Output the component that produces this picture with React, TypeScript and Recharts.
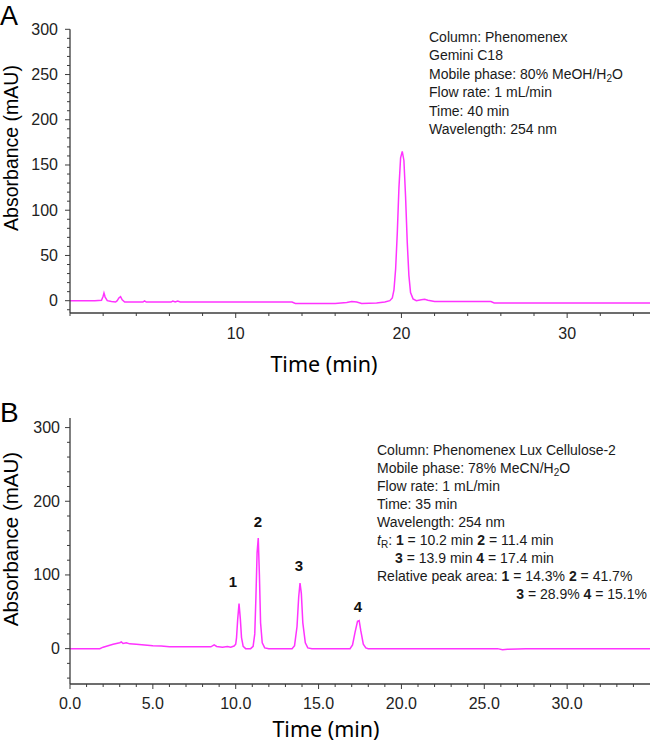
import React from "react";
import { LineChart, Line, XAxis, YAxis } from "recharts";

// ---------- Panel A data (time in min, absorbance in mAU) ----------
const timeA = [
  0, 1.5, 1.9, 2.0, 2.05, 2.12, 2.25, 2.5, 2.75, 2.85, 2.95, 3.05, 3.15, 3.3, 3.6,
  4.4, 4.5, 4.6, 6.1, 6.2, 6.35, 6.5, 6.65, 10, 13.4, 13.6, 16.0, 16.7, 17.0, 17.3,
  17.6, 18.5, 19.0, 19.3, 19.45, 19.55, 19.65, 19.75, 19.85, 19.95, 20.05, 20.15,
  20.25, 20.35, 20.45, 20.55, 20.7, 20.9, 21.2, 21.4, 21.6, 22.0, 25.4, 25.6, 35,
];
const absA = [
  0, 0, 0.5, 5, 8.5, 4, 0, -1, -1.5, 0, 3, 4.5, 1, -1.5, -1.5,
  -1.5, -0.3, -1.5, -1.5, -0.5, -1.5, -0.5, -1.5, -1.5, -1.5, -3, -3, -2, -1, -1.5,
  -3, -2.5, -1.5, 0, 3, 12, 35, 75, 125, 158, 165, 155,
  115, 65, 28, 9, 2, 0, 1, 1.5, 0.5, -1, -1, -2.5, -2.5,
];

// ---------- Panel B data ----------
const timeB = [
  0, 1.8, 2.0, 2.3, 2.6, 3.0, 3.1, 3.2, 3.4, 3.6, 4.0, 4.5, 5.0, 5.5, 6.0, 8.5, 8.7,
  8.85, 9.2, 9.5, 9.7, 9.9, 10.0, 10.05, 10.12, 10.2, 10.28, 10.35, 10.45, 10.6, 10.9,
  11.05, 11.15, 11.22, 11.29, 11.36, 11.43, 11.5, 11.6, 11.75, 12.0, 13.4, 13.55, 13.7,
  13.8, 13.88, 13.96, 14.05, 14.2, 14.35, 14.6, 16.9, 17.05, 17.2, 17.35, 17.45, 17.55,
  17.7, 17.85, 18.0, 25.8, 26.1, 26.4, 27.0, 27.5, 35,
];
const absB = [
  0, 0, 2, 4, 6, 8, 9, 7, 8, 6.5, 6, 5, 4, 3.5, 2.5, 2.5, 5,
  3, 2, 3, 2, 3.5, 6, 15, 40, 61, 40, 15, 3, 0, 0,
  3, 20, 70, 130, 150, 100, 35, 8, 1, 0, 0, 4, 30,
  70, 89, 75, 35, 8, 1, 0, 0, 5, 22, 37, 38, 24,
  6, 1, 0, 0, -1.5, -1, -0.5, 0, 0,
];

const peakLabels = ["1", "2", "3", "4"];

const dataA = timeA.map((t, i) => ({ t, v: absA[i] }));
const dataB = timeB.map((t, i) => ({ t, v: absB[i] }));

// ---------- Axis ticks ----------
const yMajorA = [0, 50, 100, 150, 200, 250, 300];
const yMajorB = [0, 100, 200, 300];
const xMajorA = [10, 20, 30];
const xMajorB = [0, 5, 10, 15, 20, 25, 30];

const range = (a: number, b: number, s: number) => {
  const out: number[] = [];
  for (let v = a; v <= b + 1e-9; v += s) out.push(Math.round(v * 100) / 100);
  return out;
};
const yTicksA = range(-10, 300, 10);
const yTicksB = range(-40, 300, 20);
const xTicksA = range(0, 34, 2);
const xTicksB = range(0, 34, 1);

const AXIS = "#3c3c3c";
const TICK_FONT = "'Liberation Sans', Arial, sans-serif";
const LINE = "#ff33ff";

const makeYTick = (majors: number[], gap: number) => (props: any) => {
  const { x, y, payload } = props;
  const major = majors.includes(payload.value);
  return (
    <g>
      <line x1={x} x2={x - (major ? 5 : 3)} y1={y} y2={y} stroke={AXIS} strokeWidth={1} />
      {major && (
        <text x={x - gap} y={y + 5.5} textAnchor="end" fontSize={16} fontFamily={TICK_FONT} fill="#222">
          {payload.value}
        </text>
      )}
    </g>
  );
};

const makeXTick = (majors: number[], fmt: (v: number) => string, off: number) => (props: any) => {
  const { x, y, payload } = props;
  const major = majors.includes(payload.value);
  return (
    <g>
      <line x1={x} x2={x} y1={y} y2={y + (major ? 5 : 3)} stroke={AXIS} strokeWidth={1} />
      {major && (
        <text x={x} y={y + off} textAnchor="middle" fontSize={16} fontFamily={TICK_FONT} fill="#222">
          {fmt(payload.value)}
        </text>
      )}
    </g>
  );
};

const FONT = "'Liberation Sans', Arial, sans-serif";

export default function App() {
  return (
    <div style={{ position: "absolute", left: 0, top: 0, width: 650, height: 743, background: "#fff" }}>
      <div style={{ position: "absolute", left: 0, top: 0 }}>
        <LineChart width={650} height={372} data={dataA} margin={{ top: 29.3, right: 0, bottom: 0, left: 0 }}>
          <XAxis
            dataKey="t"
            type="number"
            domain={[0, 35]}
            ticks={xTicksA}
            interval={0}
            tickSize={0}
            tickMargin={0}
            tickLine={false}
            height={59}
            allowDataOverflow
            axisLine={{ stroke: AXIS, strokeWidth: 1.3 }}
            tick={makeXTick(xMajorA, (v) => String(v), 26)}
          />
          <YAxis
            type="number"
            domain={[-13.6, 300]}
            ticks={yTicksA}
            interval={0}
            tickSize={0}
            tickMargin={0}
            tickLine={false}
            width={70}
            allowDataOverflow
            axisLine={{ stroke: AXIS, strokeWidth: 1.3 }}
            tick={makeYTick(yMajorA, 12)}
          />
          <Line type="linear" dataKey="v" stroke={LINE} strokeWidth={1.5} dot={false} isAnimationActive={false} />
        </LineChart>
      </div>
      <div style={{ position: "absolute", left: 0, top: 372 }}>
        <LineChart width={650} height={371} data={dataB} margin={{ top: 46, right: 0, bottom: 0, left: 0 }}>
          <XAxis
            dataKey="t"
            type="number"
            domain={[0, 35]}
            ticks={xTicksB}
            interval={0}
            tickSize={0}
            tickMargin={0}
            tickLine={false}
            height={59}
            allowDataOverflow
            axisLine={{ stroke: AXIS, strokeWidth: 1.3 }}
            tick={makeXTick(xMajorB, (v) => v.toFixed(1), 24.5)}
          />
          <YAxis
            type="number"
            domain={[-48, 313]}
            ticks={yTicksB}
            interval={0}
            tickSize={0}
            tickMargin={0}
            tickLine={false}
            width={70}
            allowDataOverflow
            axisLine={{ stroke: AXIS, strokeWidth: 1.3 }}
            tick={makeYTick(yMajorB, 10)}
          />
          <Line type="linear" dataKey="v" stroke={LINE} strokeWidth={1.5} dot={false} isAnimationActive={false} />
        </LineChart>
      </div>
      <svg
        width={650}
        height={743}
        style={{ position: "absolute", left: 0, top: 0, pointerEvents: "none" }}
        fontFamily={FONT}
      >
        {/* panel letters */}
        <text x={0} y={25} fontSize={27} fill="#000">A</text>
        <text x={0} y={422} fontSize={28} fill="#000">B</text>

        {/* y axis titles */}
        <text x={17.5} y={148} fontSize={19.5} textAnchor="middle" transform="rotate(-90 17.5 148)" fill="#000">
          Absorbance (mAU)
        </text>
        <text x={17.5} y={539} fontSize={20.5} textAnchor="middle" transform="rotate(-90 17.5 539)" fill="#000">
          Absorbance (mAU)
        </text>

        {/* x axis titles */}
        <text x={324} y={371.5} fontSize={21.5} textAnchor="middle" fontFamily="'Noto Sans', 'Open Sans', sans-serif" fill="#000">
          Time (min)
        </text>
        <text x={326} y={737} fontSize={21.5} textAnchor="middle" fontFamily="'Noto Sans', 'Open Sans', sans-serif" fill="#000">
          Time (min)
        </text>

        {/* panel A annotation */}
        <g fontSize={14} fill="#1a1a1a">
          <text x={429} y={42}>Column: Phenomenex</text>
          <text x={429} y={60.4}>Gemini C18</text>
          <text x={429} y={78.8}>
            Mobile phase: 80% MeOH/H<tspan fontSize={10} dy={3}>2</tspan><tspan dy={-3}>O</tspan>
          </text>
          <text x={429} y={97.2}>Flow rate: 1 mL/min</text>
          <text x={429} y={115.6}>Time: 40 min</text>
          <text x={429} y={134}>Wavelength: 254 nm</text>
        </g>

        {/* panel B annotation */}
        <g fontSize={14} fill="#1a1a1a">
          <text x={377} y={454.5}>Column: Phenomenex Lux Cellulose-2</text>
          <text x={377} y={472.5}>
            Mobile phase: 78% MeCN/H<tspan fontSize={10} dy={3}>2</tspan><tspan dy={-3}>O</tspan>
          </text>
          <text x={377} y={490.5}>Flow rate: 1 mL/min</text>
          <text x={377} y={508.5}>Time: 35 min</text>
          <text x={377} y={526.5}>Wavelength: 254 nm</text>
          <text x={377} y={544.5}>
            <tspan fontStyle="italic">t</tspan>
            <tspan fontSize={10} dy={3}>R</tspan>
            <tspan dy={-3}>: </tspan>
            <tspan fontWeight="bold">1</tspan> = 10.2 min <tspan fontWeight="bold">2</tspan> = 11.4 min
          </text>
          <text x={395} y={562.5}>
            <tspan fontWeight="bold">3</tspan> = 13.9 min <tspan fontWeight="bold">4</tspan> = 17.4 min
          </text>
          <text x={377} y={580.5}>
            Relative peak area: <tspan fontWeight="bold">1</tspan> = 14.3% <tspan fontWeight="bold">2</tspan> = 41.7%
          </text>
          <text x={647} y={598.5} textAnchor="end">
            <tspan fontWeight="bold">3</tspan> = 28.9% <tspan fontWeight="bold">4</tspan> = 15.1%
          </text>
        </g>

        {/* peak labels */}
        <g fontSize={15} fontWeight="bold" textAnchor="middle" fill="#111">
          <text x={233} y={587}>{peakLabels[0]}</text>
          <text x={258} y={527}>{peakLabels[1]}</text>
          <text x={299} y={571}>{peakLabels[2]}</text>
          <text x={358} y={612}>{peakLabels[3]}</text>
        </g>
      </svg>
    </div>
  );
}
